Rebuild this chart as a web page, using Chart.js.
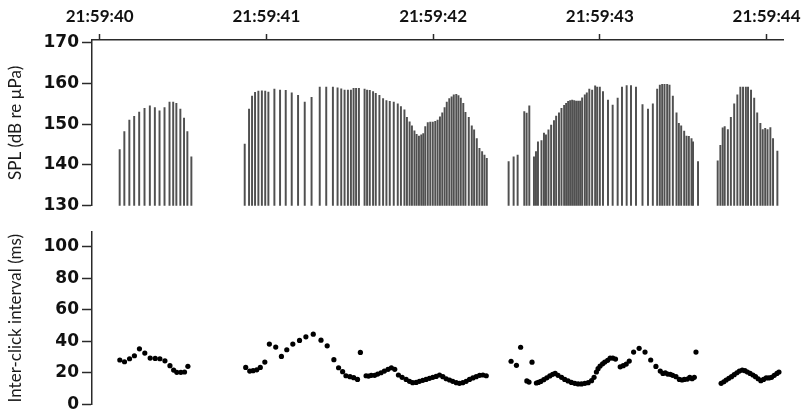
<!DOCTYPE html>
<html><head><meta charset="utf-8">
<script src="https://cdn.jsdelivr.net/npm/chart.js@4.4.1/dist/chart.umd.min.js"></script>
<style>
html,body{margin:0;padding:0;background:#fff;}
#wrap{position:relative;width:808px;height:413px;overflow:hidden;}
#c1{position:absolute;left:0;top:0;width:808px;height:220px;}
#c2{position:absolute;left:0;top:215px;width:808px;height:204px;}
</style></head><body>
<div id="wrap"><canvas id="c1" width="808" height="220"></canvas><canvas id="c2" width="808" height="204"></canvas></div>
<script>
// Time of each click, ms after 21:59:40.000
const clickTimeMs = [
  120,148,178,207,237,269,301,331,359,389,419,441,460,484,506,526,550,
  870,896,914,932,952,973,993,1012,1048,1082,1116,1152,1190,1230,1271,1320,1359,1399,1427,1449,1469,1489,1507,1523,1538,1555,
  1589,1604,1620,1640,1656,1678,1700,1720,1740,1764,1788,1807,1828,1843,1859,1873,1888,1901,1915,1929,1941,1953,1968,1983,1998,2013,
  2027,2041,2055,2069,2082,2097,2111,2124,2139,2152,2166,2181,2194,2214,2232,2246,2262,2278,2294,2308,2322,
  2453,2483,2507,2547,2561,2577,2605,2617,2629,2650,2665,2677,2692,2708,2725,2738,2755,2770,2786,2798,2810,2822,2834,2846,2858,2870,2882,
  2894,2910,2922,2937,2954,2972,2984,3000,3019,3049,3077,3107,3133,3161,3187,3217,3256,3289,3318,3344,3360,3374,3388,3404,3418,3438,
  3460,3474,3488,3506,3520,3534,3550,3559,3589,
  3707,3723,3737,3749,3768,3786,3806,3825,3843,3859,3876,3889,3907,3926,3944,3963,3977,3992,4006,4023,4039,4065
];
// Sound pressure level of each click, dB re 1 µPa
const clickSPL = [
  143.8,148.2,151.0,151.9,153.0,153.9,154.5,154.1,153.3,154.1,155.4,155.4,155.1,153.7,151.5,148.2,142.0,
  145.1,153.7,156.9,157.8,158.1,158.2,158.1,157.9,158.6,158.4,158.3,157.7,157.1,155.4,156.6,159.1,159.1,159.1,158.9,158.7,158.4,158.4,158.4,158.8,158.8,158.8,
  158.6,158.4,158.3,158.0,157.6,157.1,156.3,155.8,155.6,155.4,155.0,154.3,153.5,151.7,150.6,149.6,148.4,147.5,147.1,147.4,147.7,149.4,150.4,150.5,150.5,150.7,
  151.0,151.8,152.8,154.1,155.4,156.3,156.7,157.2,157.3,157.0,156.4,155.1,152.9,151.7,149.6,148.6,146.5,144.1,143.3,142.4,141.6,
  140.8,142.0,142.4,153.1,152.7,154.5,142.0,143.3,145.7,146.0,147.8,147.4,148.6,149.8,150.9,152.0,152.8,153.9,154.6,155.1,155.6,155.8,155.9,155.8,155.7,155.7,155.7,
  156.5,157.2,157.7,158.6,158.4,159.4,159.1,159.1,158.0,155.9,154.7,156.4,159.1,159.5,159.5,159.1,154.8,153.7,155.0,158.6,159.6,159.8,159.8,159.8,159.6,156.9,
  152.8,150.2,149.6,148.3,147.1,147.0,146.5,145.7,140.8,
  141.0,144.8,149.1,149.4,148.7,151.7,155.0,157.2,159.1,159.1,159.1,159.1,158.4,156.4,152.8,150.2,148.7,149.0,148.7,149.2,146.5,143.4
];
// Inter-click interval points: time (ms after 21:59:40) and interval (ms)
const iciTimeMs = [
  120,148,178,207,237,269,301,331,359,389,419,441,460,484,506,526,
  871,895,915,937,958,985,1012,1050,1084,1116,1152,1192,1230,1274,1320,1357,1397,1425,1449,1469,1493,1515,1538,1555,
  1589,1604,1620,1640,1658,1678,1698,1720,1740,1760,1782,1804,1828,1848,1867,1888,1907,1927,1947,1967,1987,2007,
  2027,2047,2067,2087,2106,2127,2146,2166,2186,2206,2226,2246,2266,2286,2306,
  2454,2486,2511,2548,2561,2579,2605,2617,2631,2649,2667,2685,2702,2717,2734,2755,2774,2794,2814,2834,2854,2874,2894,2914,2934,2949,
  2963,2973,2985,3000,3013,3030,3045,3061,3077,3105,3123,3141,3159,3185,3218,3253,3287,3318,3344,3360,3374,3388,3404,3418,3438,
  3458,3474,3488,3506,3520,3534,3547,3557,
  3707,3723,3737,3753,3769,3785,3801,3816,3833,3849,3864,3880,3897,3912,3928,3944,3960,3976,3992,4008,4024,4040,4052
];
const iciMs = [
  28.1,27.0,28.9,30.8,35.2,32.5,29.3,29.1,28.9,27.6,24.5,21.7,20.3,20.3,20.5,24.1,
  23.4,21.1,21.3,21.9,23.4,26.8,38.2,36.3,30.4,34.6,38.2,40.5,42.8,44.5,40.7,37.1,28.3,23.2,20.7,18.1,17.5,16.9,15.8,32.9,
  18.1,17.9,18.4,18.4,19.2,20.0,21.1,22.2,23.2,22.2,18.6,17.1,15.8,14.6,13.7,13.9,14.6,15.2,15.8,16.5,17.1,17.7,
  18.6,17.5,16.2,15.4,14.6,13.7,13.3,13.7,14.6,15.8,16.7,17.5,18.4,18.6,18.1,
  27.3,24.7,36.2,14.8,14.1,26.7,13.5,13.9,14.5,15.6,16.8,18.0,19.0,19.6,18.4,17.1,15.8,14.8,13.9,13.3,12.9,12.9,13.3,13.7,15.0,17.1,
  20.5,22.6,24.3,25.7,26.8,27.9,29.3,29.3,28.7,23.8,24.5,25.5,27.4,33.1,35.5,33.1,28.1,24.0,21.1,19.6,20.0,19.2,19.0,18.4,17.5,
  15.8,15.4,15.8,16.0,17.1,16.2,17.1,33.1,
  13.3,14.3,15.4,16.5,17.5,18.8,20.0,21.1,21.7,21.3,20.5,19.6,18.6,17.5,16.2,15.0,15.8,16.7,16.7,17.1,18.4,19.6,20.5
];
const timeTickLabels = ['21:59:40','21:59:41','21:59:42','21:59:43','21:59:44'];
const splTicks = [130,140,150,160,170];
const iciTicks = [0,20,40,60,80,100];
const SPL_BASE = 130;

const stemData = clickTimeMs.map((t,i)=>({x:t, y:[SPL_BASE, clickSPL[i]]}));
const dotData = iciTimeMs.map((t,i)=>({x:t, y:iciMs[i]}));

const axisColor = '#2a2a2a';
const tickFont = {family:'DejaVu Sans', weight:'bold', size:17};
const titleFont = {family:'Lato', size:17};
const X_MIN = -46, X_MAX = 4100;

new Chart(document.getElementById('c1'), {
  type:'bar',
  data:{datasets:[{data:stemData, backgroundColor:'#505050', borderWidth:0, barThickness:1.3, grouped:false}]},
  options:{
    responsive:false, animation:false, devicePixelRatio:1,
    layout:{padding:{left:0, right:21, top:0, bottom:14.3}},
    plugins:{legend:{display:false}, tooltip:{enabled:false}},
    scales:{
      x:{type:'linear', position:'top', min:X_MIN, max:X_MAX, offset:false,
        grid:{offset:false, drawOnChartArea:false, drawTicks:true, tickLength:6, color:axisColor, tickWidth:1.5},
        border:{display:true, color:axisColor, width:1.5},
        afterBuildTicks:s=>{s.ticks = timeTickLabels.map((l,i)=>({value:i*1000}));},
        ticks:{autoSkip:false, maxRotation:0, padding:7, color:'#111',
          font:{family:'Lato', weight:'bold', size:17},
          callback:(v)=>timeTickLabels[Math.round(v/1000)]},
        afterFit:s=>{s.height=40;}
      },
      y:{type:'linear', min:SPL_BASE, max:170.66,
        afterBuildTicks:s=>{s.ticks = splTicks.map(v=>({value:v}));},
        grid:{drawOnChartArea:false, drawTicks:true, tickLength:10, color:axisColor, tickWidth:1.5},
        border:{display:true, color:axisColor, width:1.5},
        ticks:{padding:3, color:'#111', font:tickFont},
        title:{display:true, text:'SPL (dB re µPa)', color:'#1a1a1a', font:titleFont, padding:{top:5,bottom:0}},
        afterFit:s=>{s.width=92;}
      }
    }
  }
});

new Chart(document.getElementById('c2'), {
  type:'scatter',
  data:{datasets:[{data:dotData, backgroundColor:'#000', borderWidth:0, pointRadius:2.6, pointHoverRadius:2.6}]},
  options:{
    responsive:false, animation:false, devicePixelRatio:1,
    layout:{padding:{left:0, right:21, top:17, bottom:14.7}},
    plugins:{legend:{display:false}, tooltip:{enabled:false}},
    scales:{
      x:{type:'linear', display:false, min:X_MIN, max:X_MAX},
      y:{type:'linear', min:0, max:109.3,
        afterBuildTicks:s=>{s.ticks = iciTicks.map(v=>({value:v}));},
        grid:{drawOnChartArea:false, drawTicks:true, tickLength:10, color:axisColor, tickWidth:1.5},
        border:{display:true, color:axisColor, width:1.5},
        ticks:{padding:3, color:'#111', font:tickFont},
        title:{display:true, text:'Inter-click interval (ms)', color:'#1a1a1a', font:titleFont, padding:{top:5,bottom:0}},
        afterFit:s=>{s.width=92;}
      }
    }
  }
});
</script>
</body></html>
